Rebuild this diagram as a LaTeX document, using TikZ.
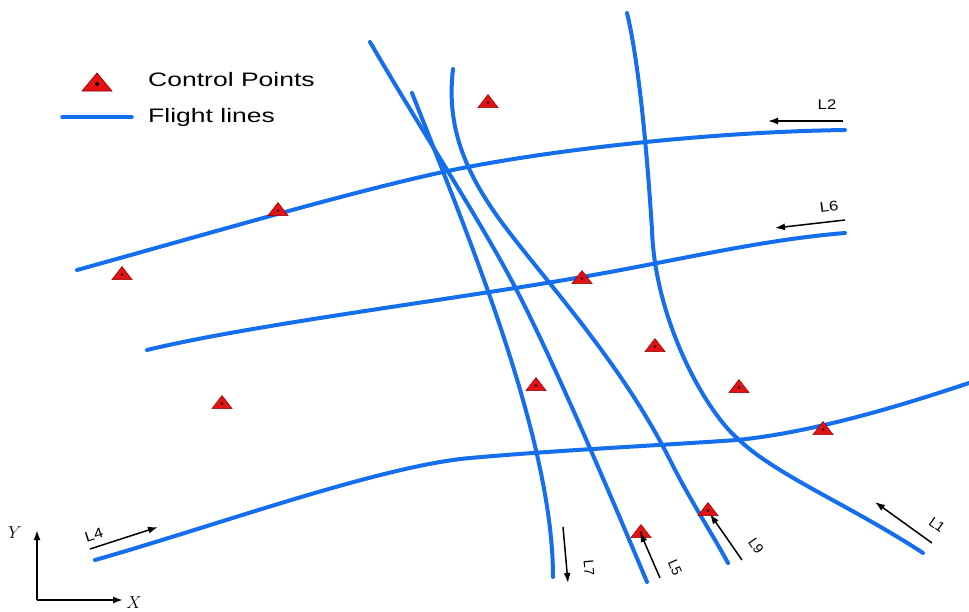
\documentclass[tikz,border=0pt]{standalone}
\usepackage{fontspec}
\setmainfont{Liberation Sans}
\usetikzlibrary{arrows.meta}
\definecolor{fl}{RGB}{20,110,238}
\definecolor{cpred}{RGB}{228,18,18}
\definecolor{cpdark}{RGB}{140,0,0}
\begin{document}
\begin{tikzpicture}[x=1pt,y=-1pt,
  flight/.style={draw=fl,line width=4pt,line cap=round,line join=round},
  dirarrow/.style={draw=black,line width=1.5pt,-{Latex[length=10pt,width=7pt]}},
  axisarrow/.style={draw=black,line width=1.8pt,-{Latex[length=10pt,width=7pt]}},
  lab/.style={font=\fontsize{14}{14}\selectfont,inner sep=0pt},
  legtext/.style={font=\fontsize{19.5}{20}\selectfont,inner sep=0pt,anchor=west},
  cpt/.pic={\filldraw[fill=cpred,draw=cpdark,line width=0.5pt] (-10,6.5)--(10,6.5)--(0,-6.5)--cycle;
            \fill[black] (0,1.5) circle (1.4);},
  bigcpt/.pic={\filldraw[fill=cpred,draw=cpdark,line width=0.6pt] (-15,9)--(15,9)--(0,-9)--cycle;
            \fill[black] (0,2) circle (2);}]
\fill[white] (0,0) rectangle (969,611);
\useasboundingbox (0,0) rectangle (969,611);

% legend
\pic at (97,82) {bigcpt};
\node[legtext] (lcp) at (148,80) {\scalebox{1.36}[1]{Control Points}};
\coordinate (lfa) at (62,117);
\coordinate (lfb) at (132,117);
\draw[flight,line width=3.5pt] (lfa) -- (lfb);
\node[legtext] (lfl) at (148,117) {\scalebox{1.36}[1]{Flight lines}};

% flight lines
% L2
\draw[flight] (77,270) .. controls (200,236) and (350,192) .. (443,172)
                       .. controls (536,152) and (700,132) .. (845,130);
% L6
\draw[flight] (147,350) .. controls (250,325) and (450,300) .. (582,277)
                        .. controls (680,260) and (760,240) .. (845,233);
% L4
\draw[flight] (95,560) .. controls (215,526) and (380,466) .. (470,458)
                       .. controls (560,450) and (650,446) .. (737,440)
                       .. controls (817,432) and (909,403) .. (969,383);
% L1
\draw[flight] (627,13) .. controls (636,50) and (645,120) .. (652,230)
                       .. controls (655,320) and (705,410) .. (737,438)
                       .. controls (775,475) and (850,505) .. (923,553);
% L7
\draw[flight] (412,93) .. controls (470,240) and (553,440) .. (553,577);
% L5
\draw[flight] (370,42) .. controls (420,128) and (480,220) .. (515,287)
                       .. controls (550,354) and (600,470) .. (647,582);
% L9
\draw[flight] (453,69) .. controls (447,120) and (460,165) .. (500,220)
                       .. controls (540,275) and (620,360) .. (670,460)
                       .. controls (690,500) and (710,530) .. (728,563);

% control points
\foreach \p in {(488,101),(278,209),(122,273),(582,277),(655,345),(536,384),(739,386),(823,428),(222,402),(641,531),(708,509)}
  \pic at \p {cpt};

% direction arrows and labels
\coordinate (a2s) at (843,121); \coordinate (a2e) at (768,121);
\draw[dirarrow] (a2s) -- (a2e);
\node[lab] (l2) at (827,105) {\scalebox{1.2}[1]{L2}};

\coordinate (a6s) at (845,220); \coordinate (a6e) at (775,228);
\draw[dirarrow] (a6s) -- (a6e);
\node[lab,rotate=7] (l6) at (829,207) {\scalebox{1.2}[1]{L6}};

\coordinate (a4s) at (90,549); \coordinate (a4e) at (158,527);
\draw[dirarrow] (a4s) -- (a4e);
\node[lab,rotate=18] (l4) at (94,535) {\scalebox{1.2}[1]{L4}};

\coordinate (a7s) at (563,527); \coordinate (a7e) at (568,583);
\draw[dirarrow] (a7s) -- (a7e);
\node[lab,rotate=-85] (l7) at (589,568) {L7};

\coordinate (a5s) at (660,578); \coordinate (a5e) at (640,532);
\draw[dirarrow] (a5s) -- (a5e);
\node[lab,rotate=-66] (l5) at (675,568) {L5};

\coordinate (a9s) at (742,560); \coordinate (a9e) at (710,514);
\draw[dirarrow] (a9s) -- (a9e);
\node[lab,rotate=-55] (l9) at (756,546) {L9};

\coordinate (a1s) at (932,543); \coordinate (a1e) at (875,502);
\draw[dirarrow] (a1s) -- (a1e);
\node[lab,rotate=-36] (l1) at (937,525) {L1};

% axes
\coordinate (o) at (37,600);
\coordinate (ya) at (37,530);
\coordinate (xa) at (123,600);
\draw[axisarrow] (o) -- (ya);
\draw[axisarrow] (o) -- (xa);
\node[inner sep=0pt,font=\fontsize{17}{17}\selectfont] (ylab) at (15,533) {$Y$};
\node[inner sep=0pt,font=\fontsize{17}{17}\selectfont] (xlab) at (134,603) {$X$};
\end{tikzpicture}
\end{document}
